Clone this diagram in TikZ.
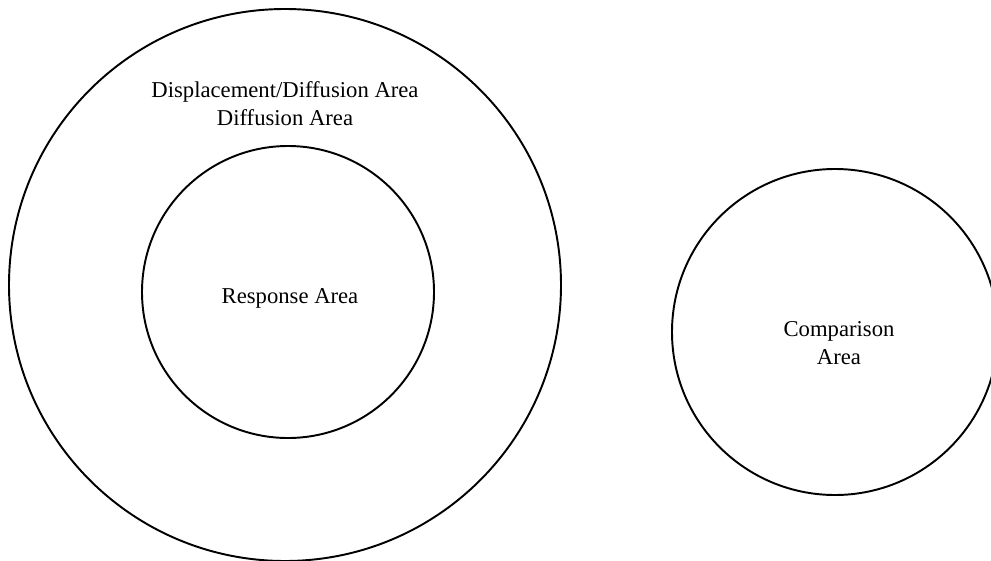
\documentclass[tikz,border=0pt]{standalone}
\usepackage{fontspec}
\setmainfont{Liberation Serif}
\usetikzlibrary{positioning}

\tikzset{
  area/.style={draw, circle, line width=1.1pt, inner sep=0pt},
  label text/.style={font=\fontsize{12.9}{15.9}\selectfont, align=center, inner sep=0pt}
}

\begin{document}
\begin{tikzpicture}[x=0.02cm, y=-0.02cm]
  %%%%% frame %%%%%
  \useasboundingbox (0, 0) rectangle (991, 561);

  %%%%% circles %%%%%
  \node[area, minimum size=552*0.02cm] (displacement) at (285, 285) {};
  \node[area, minimum size=292*0.02cm] (response) at (288, 292) {};
  \node[area, minimum size=326*0.02cm] (comparison) at (835, 332) {};

  %%%%% labels %%%%%
  \node[label text] (displacementlbl) at (285, 103.5) {Displacement/Diffusion Area\\Diffusion Area};
  \node[label text, anchor=base] (responselbl) at (290, 303) {Response Area};
  \node[label text] (comparisonlbl) at (839, 343.5) {Comparison\\Area};
\end{tikzpicture}
\end{document}
